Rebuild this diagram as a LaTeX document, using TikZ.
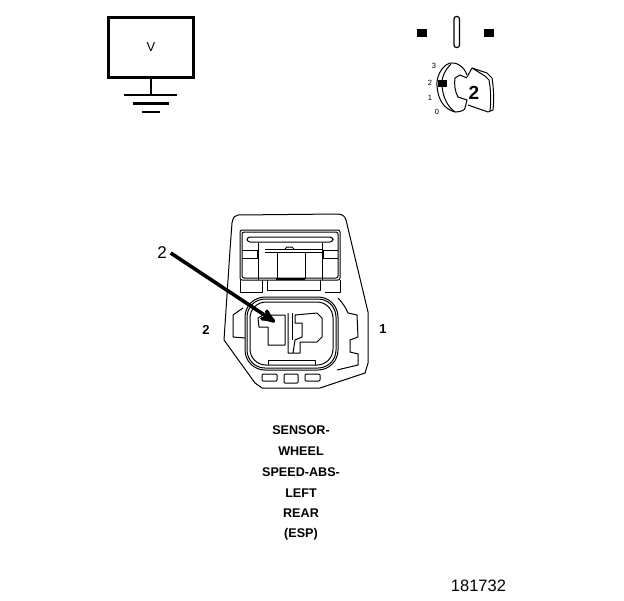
\documentclass[tikz,border=0pt]{standalone}
\usepackage{fontspec}
\setmainfont{Liberation Sans}
\usetikzlibrary{arrows,positioning}
\tikzset{
    labeltext/.style={
           font=\bfseries\fontsize{12.6}{14}\selectfont,
           inner sep=0pt,
           text centered,
           },
    pinlabel/.style={
           font=\bfseries\fontsize{13}{15}\selectfont,
           inner sep=0pt,
           },
    keydigit/.style={font=\fontsize{7.5}{8}\selectfont,inner sep=0pt},
    part/.style={line width=1pt,line join=round},
    blackmark/.style={fill=black,draw=none,minimum width=10pt,minimum height=8pt,inner sep=0pt},
}
\begin{document}
\begin{tikzpicture}[x=1pt,y=-1pt,>=stealth']
\useasboundingbox (0,0) rectangle (624,600);
% meter
\node[draw,line width=2.2pt,minimum width=85pt,minimum height=60pt,inner sep=0pt,font=\fontsize{13}{15}\selectfont] (meter) at (151,47.5) {V};
\coordinate (gndtop) at (151,95);
\draw[line width=1.4pt] (meter.south) -- (gndtop);
\draw[line width=1.4pt] (124,95) -- (177,95);
\draw[line width=2.2pt] (133,103.5) -- (169,103.5);
\draw[line width=1.6pt] (142,112) -- (160,112);
% key position
\node[blackmark] (markl) at (422,33) {};
\node[blackmark] (markr) at (489,33) {};
\draw[line width=1.2pt,rounded corners=2.5pt] (454,16.5) rectangle (459.5,47.5);
\draw[part] (450,63) .. controls (441,66) and (436,78) .. (437,86) .. controls (438,100) and (444,109) .. (455,112) .. controls (461,112) and (465,110) .. (465,108) -- (467,100) -- (458,97) .. controls (455,92) and (454,84) .. (455,78) -- (460,75) -- (467,78);
\draw[part] (450,63) .. controls (456,62) and (464,66) .. (467,75);
\draw[part] (451,64) .. controls (445,70) and (441,78) .. (442,86) .. controls (443,98) and (448,107) .. (455,112);
\draw[part] (467,77) -- (472,68) -- (487,73) -- (492,78) .. controls (494,90) and (494,102) .. (493,110) -- (488,112) -- (468,105);
\draw[part] (472,68) -- (485,76) -- (489,80) .. controls (491,90) and (491,102) .. (490,111);
\node[blackmark,minimum width=9pt,minimum height=7pt] (markkey) at (442.5,83.5) {};
\node[keydigit] (posc) at (434,66) {3};
\node[keydigit] (posb) at (430,83) {2};
\node[keydigit] (posa) at (430,98) {1};
\node[keydigit] (posz) at (437,112) {0};
\node[font=\bfseries\fontsize{19}{21}\selectfont,inner sep=0pt] (keynum) at (474,93) {2};
% connector body
\draw[part] (230,250) -- (232,223) .. controls (233,217) and (235,215) .. (238,215) -- (337,214) .. controls (342,214) and (345,216) .. (346,220) -- (368,312) -- (368,363) -- (365,373) -- (320,388) -- (262,388) -- (255,383) -- (224,340) -- (230,250);
% right and left latches
\draw[part] (338,298) .. controls (342,302) and (346,308) .. (348,313) -- (357,315) -- (358,337) -- (350,340) -- (350,352) -- (358,354) -- (358,365) -- (337,370);
\draw[part] (243,308) -- (233,315) -- (233,337) -- (245,338);
% upper box
\draw[part,rounded corners=2pt] (240,230) rectangle (340,280);
\draw[part,rounded corners=2pt] (242,232) rectangle (338,278);
\draw[part,rounded corners=3pt] (247,237) rectangle (333,242);
\draw[part] (258,243) -- (258,280) (322,243) -- (322,280);
\draw[part] (265,249) -- (322,249) (265,252) -- (322,252);
\draw[part] (285,249) -- (287,247) -- (292,247) -- (294,249);
\draw[part] (277,252) -- (277,279) (305,252) -- (305,279);
\draw[line width=2.4pt] (276,279) -- (305,279);
\draw[part] (242,250) -- (257,250) -- (257,258) -- (242,258);
\draw[part] (338,250) -- (323,250) -- (323,258) -- (338,258);
\draw[part] (240,280) -- (240,292) -- (262,292) -- (262,280);
\draw[part] (267,280) -- (267,290) -- (320,290) -- (320,280);
\draw[part] (340,280) -- (340,292) -- (325,292);
% socket
\draw[part,rounded corners=20pt] (245,297) rectangle (338,370);
\draw[part,rounded corners=18pt] (247,299) rectangle (336,368);
\draw[part,rounded corners=16pt] (250,302) rectangle (333,365);
\draw[part] (268,365) -- (268,360) -- (315,360) -- (315,365);
% terminals
\draw[part] (258,318) -- (263,315) -- (285,315) -- (285,345) -- (268,345) -- (268,327) -- (259,327) -- cycle;
\draw[part] (288,313) -- (288,353) -- (300,353) -- (300,342) -- (317,342) -- (322,337) -- (322,318) -- (317,313) -- (295,315) -- (295,323) -- (302,323) -- (302,337) -- (295,340) -- (293,353);
\draw[part] (292,313) -- (292,340);
% latch windows
\draw[part,rounded corners=1pt] (262,374) rectangle (277,381);
\draw[part,rounded corners=1pt] (284,374) rectangle (298,383);
\draw[part,rounded corners=1pt] (305,374) rectangle (320,381);
% labels
\node[pinlabel,font=\fontsize{17}{19}\selectfont,outer sep=4pt] (two) at (162,253) {2};
\coordinate (arrowtip) at (275,322);
\draw[->,line width=3.6pt] (two.east) -- (arrowtip);
\node[pinlabel] (pinb) at (206,330) {2};
\node[pinlabel] (pina) at (383,329) {1};
\node[labeltext] (lblsensor) at (301,430.5) {SENSOR-};
\node[labeltext,below=20.5pt of lblsensor.center,anchor=center] (lblwheel) {WHEEL};
\node[labeltext,below=21pt of lblwheel.center,anchor=center] (lblspeed) {SPEED-ABS-};
\node[labeltext,below=21pt of lblspeed.center,anchor=center] (lblleft) {LEFT};
\node[labeltext,below=20.5pt of lblleft.center,anchor=center] (lblrear) {REAR};
\node[labeltext,below=21pt of lblrear.center,anchor=center] (lblesp) {(ESP)};
\node[font=\fontsize{16.5}{18}\selectfont,inner sep=0pt] (partno) at (478.5,585.5) {181732};
\end{tikzpicture}
\end{document}
